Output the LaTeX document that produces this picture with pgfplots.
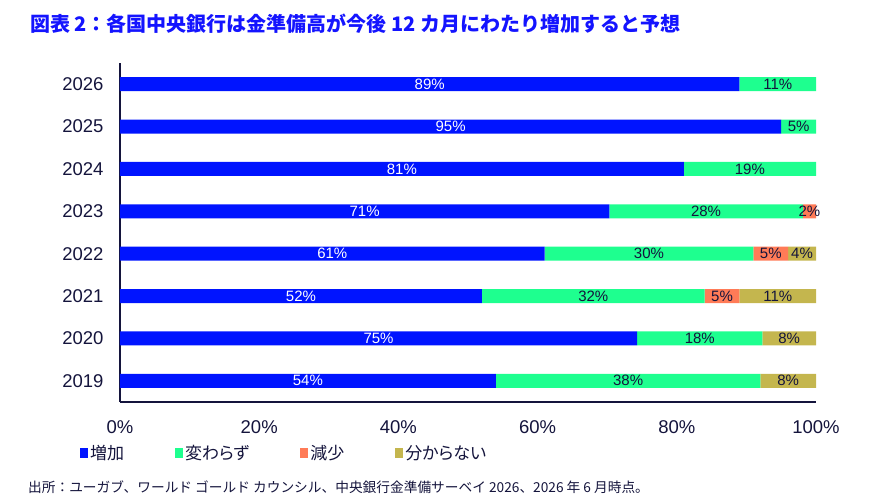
\documentclass[border=0pt]{standalone}
\usepackage{pgfplots}
\pgfplotsset{compat=1.18}
\usepackage{fontspec}
\setmainfont{Liberation Sans}
\newfontfamily\jp{Noto Sans CJK JP}
\newfontfamily\jpp{Noto Sans CJK JP}[RawFeature=+palt]
\definecolor{cblue}{HTML}{0014FF}
\definecolor{cgreen}{HTML}{1EFF8F}
\definecolor{ccoral}{HTML}{FF7B57}
\definecolor{colive}{HTML}{C4B64E}
\definecolor{ctext}{HTML}{14143C}
\definecolor{ctitle}{HTML}{1414FF}
\begin{document}
\begin{tikzpicture}[x=1pt,y=1pt]
\path[use as bounding box] (0,0) rectangle (879,503);
\node[anchor=west, text=ctitle, inner sep=0pt, font=\jp\bfseries\fontsize{20}{23}\selectfont] at (30,479) {図表 2：各国中央銀行は金準備高が今後 12 カ月にわたり増加すると予想};
\node[anchor=west, text=ctext, inner sep=0pt, font=\jp\fontsize{13.7}{16}\selectfont] at (28,16) {出所：ユーガブ、ワールド ゴールド カウンシル、中央銀行金準備サーベイ 2026、2026 年 6 月時点。};
\begin{axis}[
  at={(120pt,101pt)}, anchor=south west,
  scale only axis, width=696pt, height=339pt,
  xbar stacked, bar width=14pt,
  xmin=0, xmax=100, ymin=-0.5, ymax=7.5,
  axis x line*=bottom, axis y line*=left,
  axis line style={ctext, line width=1.2pt, -},
  major tick length=0pt,
  xtick={0,20,...,100},
  xticklabel={\pgfmathprintnumber{\tick}\%},
  ytick={0,...,7},
  yticklabels={2019,2020,2021,2022,2023,2024,2025,2026},
  /pgf/number format/assume math mode=true,
  tick label style={font=\fontsize{18.5}{20}\selectfont, text=ctext},
  xticklabel style={yshift=-15pt},
  yticklabel style={xshift=-13pt},
  nodes near coords,
  point meta=explicit symbolic,
  every node near coord/.append style={font=\fontsize{15}{16}\selectfont, text=ctext},
  legend columns=4,
  legend style={draw=none, fill=none, at={(rel axis cs:-0.062,-0.15)}, anchor=west,
    font=\jpp\fontsize{17}{20}\selectfont, text=ctext,
    /tikz/every even column/.append style={column sep=49pt}},
  legend image code/.code={\fill[#1] (0pt,-5pt) rectangle (8pt,5pt);},
]
\addplot[fill=cblue, draw=none, every node near coord/.append style={text=white}] coordinates {
(54,0) [54\%] (74.3,1) [75\%] (52,2) [52\%] (61,3) [61\%] (70.3,4) [71\%] (81,5) [81\%] (95,6) [95\%] (89,7) [89\%]};
\addplot[fill=cgreen, draw=none] coordinates {
(38,0) [38\%] (18,1) [18\%] (32,2) [32\%] (30,3) [30\%] (27.8,4) [28\%] (19,5) [19\%] (5,6) [5\%] (11,7) [11\%]};
\addplot[fill=ccoral, draw=none] coordinates {
(0,0) [] (0,1) [] (5,2) [5\%] (5,3) [5\%] (1.9,4) [2\%] (0,5) [] (0,6) [] (0,7) []};
\addplot[fill=colive, draw=none] coordinates {
(8,0) [8\%] (7.7,1) [8\%] (11,2) [11\%] (4,3) [4\%] (0,4) [] (0,5) [] (0,6) [] (0,7) []};
\legend{増加,変わらず,減少,分からない}
\end{axis}
\end{tikzpicture}
\end{document}
